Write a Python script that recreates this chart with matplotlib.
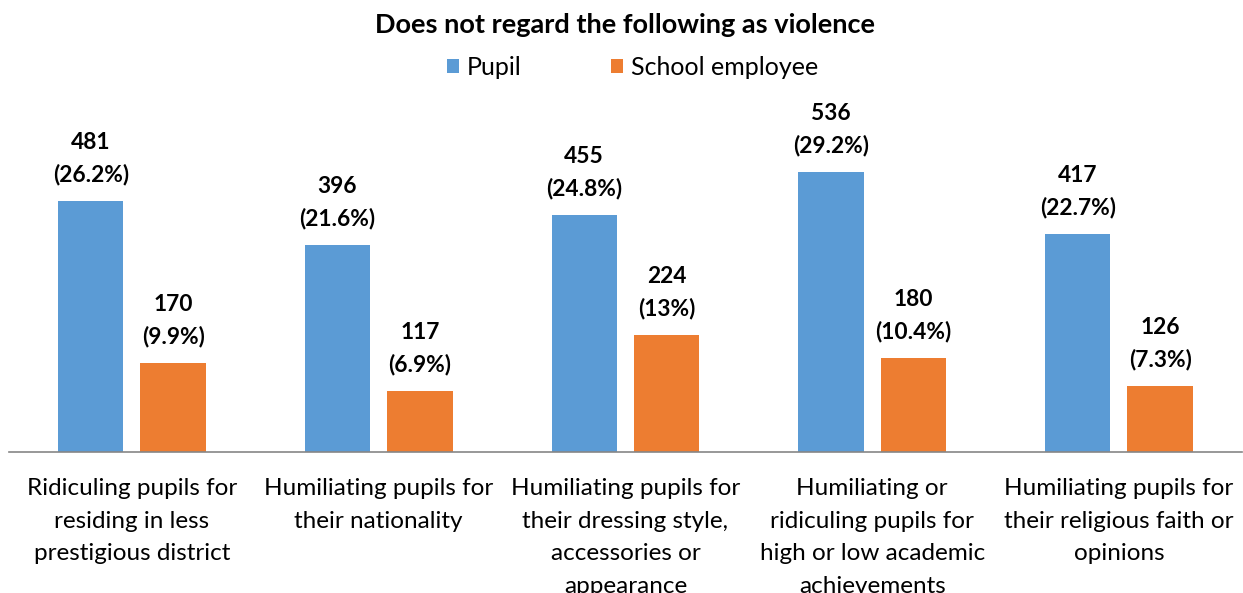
import matplotlib
matplotlib.use("Agg")
import matplotlib.pyplot as plt
import numpy as np

plt.rcParams['font.family'] = ['Lato', 'DejaVu Sans']

categories = [
    "Ridiculing pupils for\nresiding in less\nprestigious district",
    "Humiliating pupils for\ntheir nationality",
    "Humiliating pupils for\ntheir dressing style,\naccessories or\nappearance",
    "Humiliating or\nridiculing pupils for\nhigh or low academic\nachievements",
    "Humiliating pupils for\ntheir religious faith or\nopinions",
]
pupil = [481, 396, 455, 536, 417]
pupil_pct = ["26.2%", "21.6%", "24.8%", "29.2%", "22.7%"]
employee = [170, 117, 224, 180, 126]
employee_pct = ["9.9%", "6.9%", "13%", "10.4%", "7.3%"]

blue = "#5B9BD5"
orange = "#ED7D31"

fig = plt.figure(figsize=(12.43, 5.93), dpi=100)
ax = fig.add_axes([0.0069, 0.2378, 0.9925, 0.704])

x = np.arange(len(categories))
w = 0.265
off = 0.167
b1 = ax.bar(x - off, pupil, w, color=blue, label="Pupil")
b2 = ax.bar(x + off, employee, w, color=orange, label="School employee")

for bars, vals, pcts in [(b1, pupil, pupil_pct), (b2, employee, employee_pct)]:
    for rect, v, p in zip(bars, vals, pcts):
        ax.text(rect.get_x() + rect.get_width() / 2, v + 30, f"{v}\n({p})",
                ha="center", va="bottom", fontsize=16.4, fontweight="bold",
                linespacing=1.6, clip_on=False)

ax.set_xlim(-0.5, len(categories) - 0.5)
ax.set_ylim(0, 800)
ax.set_yticks([])
ax.set_xticks(x)
ax.set_xticklabels(categories, fontsize=17.5, linespacing=1.67, va="top")
ax.tick_params(axis="x", length=0, pad=19)
for s in ["top", "right", "left"]:
    ax.spines[s].set_visible(False)
ax.spines["bottom"].set_color("#868686")
ax.spines["bottom"].set_linewidth(1.2)

fig.text(0.503, 0.958, "Does not regard the following as violence",
         ha="center", va="center", fontsize=19.5, fontweight="bold")
fig.legend(handles=[b1, b2], loc="center", bbox_to_anchor=(0.509, 0.887),
           ncol=2, frameon=False, fontsize=18, handlelength=0.48,
           handleheight=0.48, handletextpad=0.32, columnspacing=3.6)

fig.savefig("out.png", dpi=100)
